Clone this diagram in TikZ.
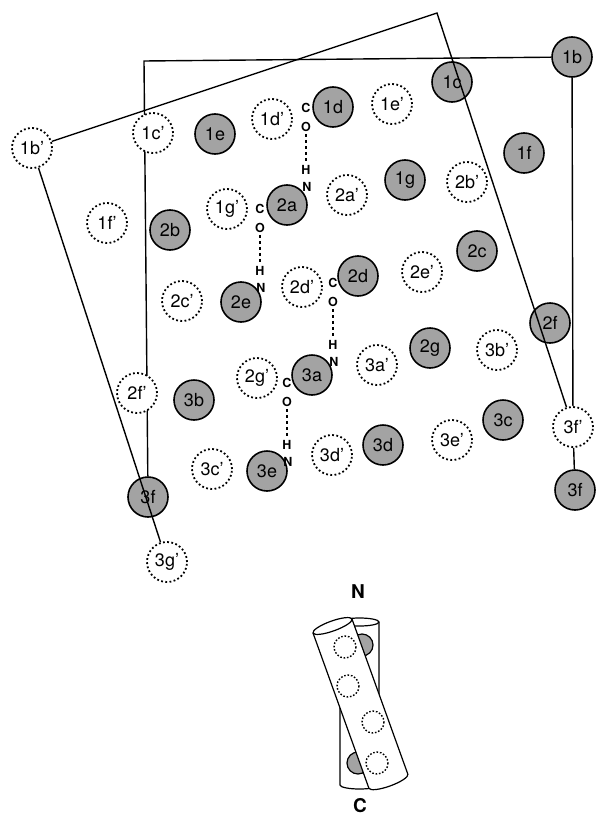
\documentclass[tikz,border=0pt]{standalone}
\usepackage{fontspec}
\setmainfont{TeX Gyre Heros}
\usetikzlibrary{backgrounds}

\newcommand{\hbridge}[3]{%
  \node[atom] (#1c) at (#2,#3) {C};
  \node[atom] (#1o) at (#2,#3+19) {O};
  \node[atom] (#1h) at (#2,#3+62) {H};
  \node[atom] (#1n) at (#2+1,#3+79) {N};
  \draw[hb] (#1o) -- (#1h);}

\begin{document}
\begin{tikzpicture}[x=1pt,y=-1pt,
  res/.style={circle,draw,line width=1.6pt,fill=black!36,minimum size=40pt,inner sep=0pt,font=\fontsize{18}{18}\selectfont},
  pres/.style={res,fill=white,line width=1.8pt,dash pattern=on 1.8pt off 2.4pt},
  atom/.style={inner sep=0pt,font=\fontsize{12.5}{12.5}\selectfont\bfseries},
  hb/.style={line width=2.6pt,dash pattern=on 3pt off 3pt,shorten <=2pt,shorten >=2pt},
  frame/.style={line width=1.4pt},
  helix/.style={fill=white,line width=1.2pt}]
  \useasboundingbox (0,0) rectangle (595,816);

  \foreach \n/\x/\y in {1b/572/57, 1c/452/82, 1d/333/107, 1e/215/134, 1f/524/153, 1g/405/180,
      2a/287/205, 2b/170/230, 2c/477/251, 2d/358/276, 2e/241/302, 2f/550/323, 2g/430/348,
      3a/312/375, 3b/194/400, 3c/503/420, 3d/383/445, 3e/267/471}
    \node[res] (s\n) at (\x,\y) {\n};
  \node[res] (s3fl) at (148,497) {3f};
  \node[res] (s3fr) at (575,490) {3f};

  \foreach \n/\x/\y in {1b/32/148, 1c/153/133, 1d/272/119, 1e/392/104, 1f/107/223, 1g/227/209,
      2a/347/195, 2b/467/182, 2c/182/301, 2d/302/287, 2e/422/272, 2f/137/393, 2g/257/378,
      3a/377/365, 3b/497/350, 3c/212/469, 3d/332/455, 3e/452/440, 3f/573/427, 3g/167/562}
    \node[pres] (d\n) at (\x,\y) {\n'};

  \hbridge{hba}{306}{108}
  \hbridge{hbb}{260}{209}
  \hbridge{hbc}{333}{283}
  \hbridge{hbd}{287}{383}

  % upright sheet outline, behind the residues
  \coordinate (tl) at (144,61);
  \begin{scope}[on background layer]
    \draw[frame] (s3fl) -- (tl) -- (s1b) -- (d3f) -- (s3fr);
  \end{scope}

  % tilted sheet outline
  \coordinate (apex) at (437,13);
  \draw[frame] (d3g) -- (d1b) -- (apex) -- (d3f);

  % helix pair
  \node[font=\fontsize{19}{19}\selectfont\bfseries] (nterm) at (358,592) {N};
  \node[font=\fontsize{19}{19}\selectfont\bfseries] (cterm) at (360,806) {C};

  \filldraw[helix] (340,622) -- (340,785) arc[start angle=180,end angle=0,x radius=19.5,y radius=4]
    -- (379,622) arc[start angle=0,end angle=-180,x radius=19.5,y radius=4] -- cycle;
  \draw[line width=1.2pt] (340,622) arc[start angle=180,end angle=0,x radius=19.5,y radius=4];
  \filldraw[fill=black!36,line width=1.2pt] (362,645) circle[radius=11];
  \filldraw[fill=black!36,line width=1.2pt] (358,763) circle[radius=11];

  \begin{scope}[shift={(332.5,626)},rotate=19.8]
    \filldraw[helix] (-20.7,0) -- (-20.7,165) arc[start angle=180,end angle=0,x radius=20.7,y radius=5]
      -- (20.7,0) arc[start angle=0,end angle=-180,x radius=20.7,y radius=5] -- cycle;
    \draw[line width=1.2pt] (-20.7,0) arc[start angle=180,end angle=0,x radius=20.7,y radius=5];
  \end{scope}

  \foreach \x/\y in {345/647, 348/686, 373/722, 377/763}
    \draw[line width=1.4pt,dash pattern=on 1.6pt off 1.8pt] (\x,\y) circle[radius=11];
\end{tikzpicture}
\end{document}
